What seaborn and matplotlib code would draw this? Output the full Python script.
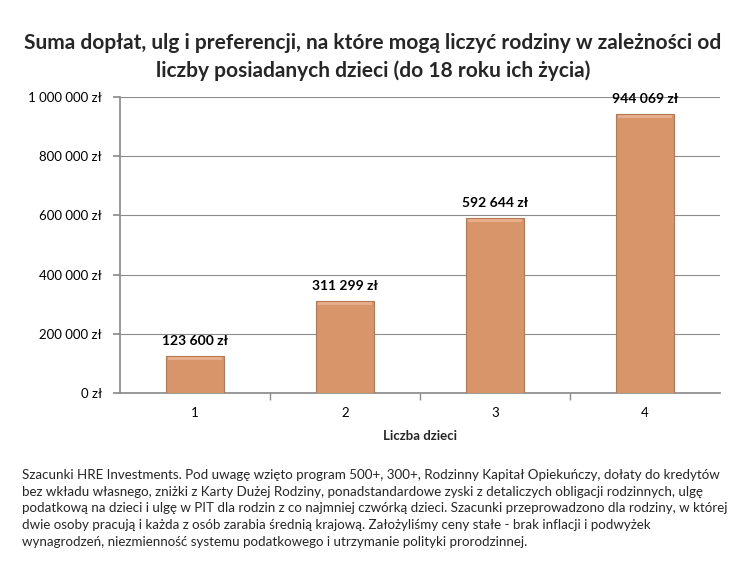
import matplotlib
matplotlib.use("Agg")
import matplotlib.pyplot as plt
import seaborn as sns
import pandas as pd
import numpy as np
from matplotlib.ticker import FuncFormatter, FixedLocator

# Data
categories = ["1", "2", "3", "4"]
values = [123600, 311299, 592644, 944069]
y_ticks = [0, 200000, 400000, 600000, 800000, 1000000]

TITLE = ("Suma dopłat, ulg i preferencji, na które mogą liczyć rodziny w zależności od\n"
         "liczby posiadanych dzieci (do 18 roku ich życia)")
NOTE = ("Szacunki HRE Investments. Pod uwagę wzięto program 500+, 300+, Rodzinny Kapitał Opiekuńczy, dołaty do kredytów\n"
        "bez wkładu własnego, zniżki z Karty Dużej Rodziny, ponadstandardowe zyski z detaliczych obligacji rodzinnych, ulgę\n"
        "podatkową na dzieci i ulgę w PIT dla rodzin z co najmniej czwórką dzieci. Szacunki przeprowadzono dla rodziny, w której\n"
        "dwie osoby pracują i każda z osób zarabia średnią krajową. Założyliśmy ceny stałe - brak inflacji i podwyżek\n"
        "wynagrodzeń, niezmienność systemu podatkowego i utrzymanie polityki prorodzinnej.")


def fmt_zl(v, pos=None):
    return f"{int(round(v)):,}".replace(",", " ") + " zł"


sns.set_theme(style="white")
plt.rcParams['font.family'] = ['Lato', 'DejaVu Sans']

df = pd.DataFrame({"dzieci": categories, "suma": values})

fig = plt.figure(figsize=(7.46, 5.71), dpi=100)
ax = fig.add_axes([0.161, 0.312, 0.804, 0.518])

sns.barplot(data=df, x="dzieci", y="suma", ax=ax, color="#D9956A",
            width=0.39, edgecolor="#B8764E", linewidth=0.8, saturation=1, zorder=3)

# light bevel highlight along the top of each bar
for bar in ax.patches:
    x0, w, h = bar.get_x(), bar.get_width(), bar.get_height()
    ax.add_patch(plt.Rectangle((x0 + w * 0.04, h - 14000), w * 0.92, 10000,
                               color="#F0C0A0", alpha=0.6, lw=0, zorder=4))

ax.set_ylim(0, 1000000)
ax.set_xlim(-0.5, 3.5)
ax.set_yticks(y_ticks)
ax.yaxis.set_major_formatter(FuncFormatter(fmt_zl))
ax.grid(axis="y", color="#8C8C8C", linewidth=0.8, zorder=0)
ax.set_axisbelow(True)

# value labels
for i, v in enumerate(values):
    ax.text(i, v + 30000, fmt_zl(v), ha="center", va="bottom",
            fontsize=10, fontweight="bold", color="black")

for side in ["top", "right"]:
    ax.spines[side].set_visible(False)
ax.spines["left"].set_color("#8C8C8C")
ax.spines["bottom"].set_color("#8C8C8C")

ax.tick_params(axis="y", which="major", direction="out", length=5, color="#8C8C8C",
               left=True, labelsize=9.5, pad=8, labelcolor="black")
ax.tick_params(axis="x", which="major", length=0, labelsize=9.5, pad=10, labelcolor="black")
ax.xaxis.set_minor_locator(FixedLocator([0.5, 1.5, 2.5]))
ax.tick_params(axis="x", which="minor", direction="out", length=5, color="#8C8C8C", bottom=True)

ax.set_xlabel("Liczba dzieci", fontsize=9.5, fontweight="bold", labelpad=8)
ax.set_ylabel("")

fig.text(0.5, 0.9, TITLE, ha="center", va="center", fontsize=15,
         fontweight="bold", linespacing=1.4)
fig.text(0.03, 0.179, NOTE, ha="left", va="top", fontsize=9.6,
         linespacing=1.48)

fig.savefig("out.png", dpi=100, facecolor="white")
